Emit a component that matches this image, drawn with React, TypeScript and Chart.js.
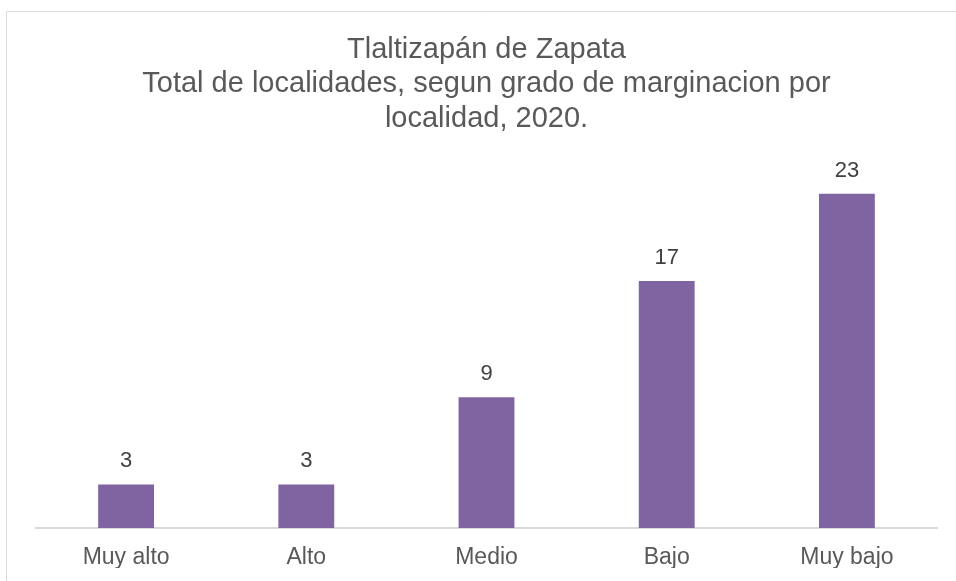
import React, { useEffect, useRef } from "react";
import { Chart, registerables } from "chart.js";

Chart.register(...registerables);

const titleLines = [
  "Tlaltizapán de Zapata",
  "Total de localidades, segun grado de marginacion por",
  "localidad, 2020.",
];
const categories = ["Muy alto", "Alto", "Medio", "Bajo", "Muy bajo"];
const values = [3, 3, 9, 17, 23];

const FONT = "'Liberation Sans', Arial, sans-serif";
const TEXT = "#595959";

const borderPlugin = {
  id: "frameBorder",
  beforeDraw(chart: any) {
    const ctx = chart.ctx;
    ctx.save();
    ctx.strokeStyle = "#d9d9d9";
    ctx.lineWidth = 1;
    ctx.beginPath();
    ctx.moveTo(6.5, chart.height);
    ctx.lineTo(6.5, 11.5);
    ctx.lineTo(chart.width, 11.5);
    ctx.stroke();
    ctx.restore();
  },
};

const dataLabelPlugin = {
  id: "dataLabels",
  afterDatasetsDraw(chart: any) {
    const ctx = chart.ctx;
    const meta = chart.getDatasetMeta(0);
    ctx.save();
    ctx.font = `22px ${FONT}`;
    ctx.fillStyle = "#404040";
    ctx.textAlign = "center";
    ctx.textBaseline = "alphabetic";
    meta.data.forEach((bar: any, i: number) => {
      ctx.fillText(String(values[i]), bar.x, bar.y - 17);
    });
    ctx.restore();
  },
};

export default function App() {
  const ref = useRef<HTMLCanvasElement>(null);
  useEffect(() => {
    document.body.style.margin = "0";
    const chart = new Chart(ref.current!, {
      type: "bar",
      data: {
        labels: categories,
        datasets: [
          {
            data: values,
            backgroundColor: "#8064A2",
            categoryPercentage: 1,
            barPercentage: 0.31,
          },
        ],
      },
      options: {
        responsive: false,
        animation: false,
        layout: { padding: { left: 36, right: 19, top: 0, bottom: 13 } },
        plugins: {
          legend: { display: false },
          tooltip: { enabled: false },
          title: {
            display: true,
            text: titleLines,
            color: TEXT,
            font: { family: FONT, size: 29, weight: "normal", lineHeight: 1.18 },
            padding: { top: 33, bottom: 29 },
          },
        },
        scales: {
          x: {
            grid: { display: false, drawTicks: false },
            border: { display: true, color: "#d9d9d9", width: 2 },
            ticks: {
              color: TEXT,
              font: { family: FONT, size: 23, lineHeight: 1.2 },
              padding: 16,
              maxRotation: 0,
            },
            afterFit: (s: any) => {
              s.height = 40;
            },
          },
          y: {
            display: false,
            min: 0,
            max: 25,
          },
        },
      },
      plugins: [borderPlugin, dataLabelPlugin],
    });
    return () => chart.destroy();
  }, []);
  return (
    <div style={{ width: 956, height: 581, position: "relative", background: "#fff" }}>
      <canvas ref={ref} width={956} height={581} style={{ width: 956, height: 581, display: "block" }} />
    </div>
  );
}
